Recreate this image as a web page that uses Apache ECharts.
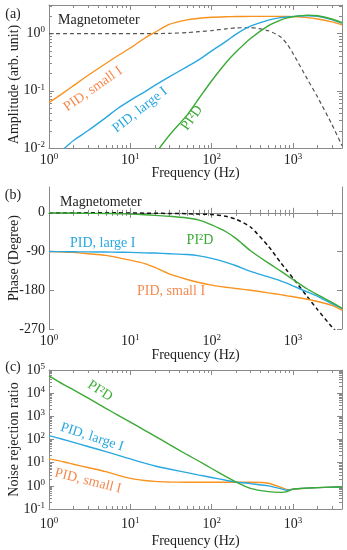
<!DOCTYPE html>
<html><head><meta charset="utf-8">
<script src="https://cdn.jsdelivr.net/npm/echarts@6/dist/echarts.min.js"></script>
<style>html,body{margin:0;padding:0;background:#fff}#c{width:347px;height:550px}</style>
</head><body><div id="c"></div>
<script>
// ---- data ----
const freq = [1,1.5,2,3,5,7,10,15,20,30,50,70,100,150,200,300,500,700,850,1000,1500,2000,3000,4000];
// (a) amplitude
const ampMag   = [1,1,1,1,1,1,1,1,1,1.01,1.04,1.08,1.13,1.21,1.26,1.27,1.12,0.88,0.65,0.45,0.16,0.078,0.026,0.011];
const ampSmall = [0.062,0.092,0.123,0.185,0.3,0.41,0.56,0.83,1.05,1.45,1.74,1.86,1.93,1.97,1.99,2.0,2.0,2.0,1.99,1.98,1.9,1.8,1.6,1.43];
const ampLarge = [0.0062,0.0095,0.0135,0.02,0.034,0.049,0.068,0.096,0.124,0.175,0.265,0.35,0.5,0.73,0.98,1.35,1.72,1.9,1.95,2.0,2.05,2.0,1.75,1.52];
const ampPI2D  = [null,null,null,null,null,null,0.002,0.0045,0.0078,0.0165,0.038,0.074,0.15,0.31,0.48,0.82,1.38,1.72,1.88,1.97,2.1,2.05,1.8,1.56];
// (b) phase
const phMag   = [0,0,0,0,0,0,-0.5,-0.8,-1,-1.5,-2,-3,-4,-8,-15,-33,-78,-115,-135,-152,-195,-225,-265,-290];
const phSmall = [-90,-91,-92,-95,-99,-104,-110,-118,-127,-142,-155,-162,-168,-173,-176,-180,-186,-190,-193,-195,-201,-206,-215,-226];
const phLarge = [-90,-90.2,-90.5,-90.8,-91,-91.5,-92,-93,-93.5,-95,-97,-100,-106,-115,-123,-136,-149,-158,-164,-170,-184,-194,-211,-222];
const phPI2D  = [0,-0.3,-0.5,-1,-1.5,-2,-3,-4.5,-6,-8,-12,-17,-28,-44,-60,-88,-117,-135,-146,-155,-177,-190,-208,-222];
// (c) noise rejection ratio
const nrSmall = [14.5,11,8.5,6.2,4.1,2.9,2.1,1.7,1.55,1.47,1.43,1.42,1.42,1.42,1.42,1.42,1.3,0.88,0.68,0.72,0.8,0.84,0.88,0.89];
const nrLarge = [148,100,75,50,30,21,14.5,9.5,7.2,5.3,3.7,2.9,2.3,1.75,1.47,1.25,1.0,0.76,0.64,0.72,0.8,0.84,0.88,0.89];
const nrPI2D  = [56000,24000,14000,6200,2200,1130,560,250,140,62,22,11.5,5.6,2.5,1.45,0.78,0.56,0.52,0.56,0.72,0.8,0.84,0.88,0.89];

// ---- ticks ----
const xMajor = [1,10,100,1000];
const ampMajor = [0.01,0.1,1];
const phMajor = [-270,-180,-90,0];
const nrMajor = [0.1,1,10,100,1000,10000,100000];
function minorsOf(majors, lo, hi){ const out=[]; majors.forEach(m=>{ for(let k=2;k<10;k++){ const v=m*k; if(v>lo && v<hi) out.push(v);} });
  return out; }
const xMinor = minorsOf(xMajor, 1, 4000);
const ampMinor = minorsOf(ampMajor, 0.01, 3.1623);
const nrMinor = minorsOf(nrMajor, 0.1, 100000);

// ---- styles ----
const FF = '"Liberation Serif","Times New Roman",serif';
const C_OR = '#f7931e', C_BL = '#29a8e0', C_GR = '#3aaa35';
const T_OR = '#f58a51';
const AX = '#8a8a8a';

const pairs = arr => freq.map((f,i)=>[f,arr[i]]).filter(p=>p[1]!==null);
const supFmt = v => { const e = Math.log10(v); const r = Math.round(e);
  if (Math.abs(e-r) > 1e-6) return ''; return '{b|10}{s|' + r + '}'; };
const rich = { b:{fontFamily:FF,fontSize:14,color:'#222'}, s:{fontFamily:FF,fontSize:9,color:'#222',padding:[0,0,7,0]} };

const grids = [
  {left:49, top:5, width:293, height:143, outerBoundsMode:'none', containLabel:false},
  {left:49, top:187, width:293, height:142, outerBoundsMode:'none', containLabel:false},
  {left:49, top:370, width:293, height:139, outerBoundsMode:'none', containLabel:false}
];
const xNameGap = [18,19,25];
const xLabelMargin = [4,4,7];
const nameStyle = {fontFamily:FF,fontSize:14,color:'#222'};

const xAxis = [], yAxis = [];
const tickAxis = (ext, pos, vals, len, showLine) => Object.assign({}, ext, {position:pos,
  axisLine:{show:showLine, lineStyle:{color:AX,width:1}},
  axisTick:{show:true, inside:true, length:len, customValues:vals, lineStyle:{color:AX}},
  axisLabel:{show:false}, splitLine:{show:false}});

grids.forEach((g,i)=>{
  const ext = {type:'log', logBase:10, min:1, max:4000, gridIndex:i};
  const main = tickAxis(ext,'bottom',xMajor,5,true);
  main.name = 'Frequency (Hz)'; main.nameLocation='middle'; main.nameGap = xNameGap[i]; main.nameTextStyle = nameStyle;
  main.nameMoveOverlap = false;
  main.axisLabel = {show:true, formatter:supFmt, rich:rich, margin:xLabelMargin[i], customValues:xMajor};
  xAxis.push(main);                                   // 4i
  xAxis.push(tickAxis(ext,'bottom',xMinor,3,false));  // 4i+1
  xAxis.push(tickAxis(ext,'top',xMajor,5,true));      // 4i+2
  xAxis.push(tickAxis(ext,'top',xMinor,3,false));     // 4i+3
});

function addY(i, ext, majors, minors, name, labelCfg, pad){
  const main = tickAxis(ext,'left',majors,5,true);
  main.name = name; main.nameLocation='middle'; main.nameGap=28;
  main.nameTextStyle=Object.assign({}, nameStyle, pad ? {padding:pad} : {});
  main.nameMoveOverlap = false;
  main.axisLabel = labelCfg;
  yAxis.push(main);
  yAxis.push(tickAxis(ext,'left',minors,3,false));
  yAxis.push(tickAxis(ext,'right',majors,5,true));
  yAxis.push(tickAxis(ext,'right',minors,3,false));
}
addY(0, {type:'log', min:0.01, max:3.1623, gridIndex:0}, ampMajor, ampMinor, 'Amplitude (arb. unit)',
  {show:true, formatter:supFmt, rich:rich, margin:4, customValues:ampMajor}, [0,16,0,0]);
addY(1, {type:'value', min:-270, max:60, interval:90, gridIndex:1}, phMajor, [], 'Phase (Degree)',
  {show:true, formatter:v=>String(v), fontFamily:FF, fontSize:14, color:'#222', margin:4, customValues:phMajor});
addY(2, {type:'log', min:0.1, max:100000, gridIndex:2}, nrMajor, nrMinor, 'Noise rejection ratio',
  {show:true, formatter:supFmt, rich:rich, margin:4, customValues:nrMajor});

const line = (data, color, p, extra) => Object.assign({type:'line', data:pairs(data), xAxisIndex:4*p, yAxisIndex:4*p,
  showSymbol:false, smooth:0.2, clip:true, lineStyle:{color:color, width:1.4}, itemStyle:{color:color},
  animation:false}, extra||{});

const series = [
  line(ampMag,'#555',0,{lineStyle:{color:'#555',width:1.2,type:[4,3]}}),
  line(ampSmall,C_OR,0), line(ampLarge,C_BL,0), line(ampPI2D,C_GR,0),
  line(phMag,'#111',1,{lineStyle:{color:'#111',width:1.5,type:[4,3]}}),
  line(phSmall,C_OR,1), line(phLarge,C_BL,1), line(phPI2D,C_GR,1),
  line(nrSmall,C_OR,2), line(nrLarge,C_BL,2), line(nrPI2D,C_GR,2)
];

const txt = (text, x, y, color, deg, size, align) => ({type:'text', x:x, y:y, rotation:(deg||0)*Math.PI/180,
  style:{text:text, fill:color, font:(size||14)+'px '+FF, align:align||'center', verticalAlign:'middle'}});

const graphic = [
  txt('(a)', 13, 14, '#222', 0, 14), txt('(b)', 13, 195, '#222', 0, 14), txt('(c)', 13, 367, '#222', 0, 14),
  txt('Magnetometer', 58, 20, '#222', 0, 14, 'left'),
  txt('PID, small I', 93, 89, T_OR, 35, 14),
  txt('PID, large I', 140, 110, C_BL, 38, 14),
  txt('PI²D', 192, 118, C_GR, 55, 14),
  txt('Magnetometer', 60, 202, '#222', 0, 14, 'left'),
  txt('PID, large I', 70, 243, C_BL, 0, 14, 'left'),
  txt('PI²D', 200, 240, C_GR, 0, 14),
  txt('PID, small I', 137, 291, T_OR, 0, 14, 'left'),
  txt('PI²D', 100, 391, C_GR, -33, 14),
  txt('PID, large I', 92, 437, C_BL, -18, 14),
  txt('PID, small I', 88, 481, T_OR, -14, 14)
];

const chart = echarts.init(document.getElementById('c'), null, {renderer:'canvas'});
chart.setOption({animation:false, grid:grids, xAxis:xAxis, yAxis:yAxis, series:series, graphic:graphic});
</script></body></html>
